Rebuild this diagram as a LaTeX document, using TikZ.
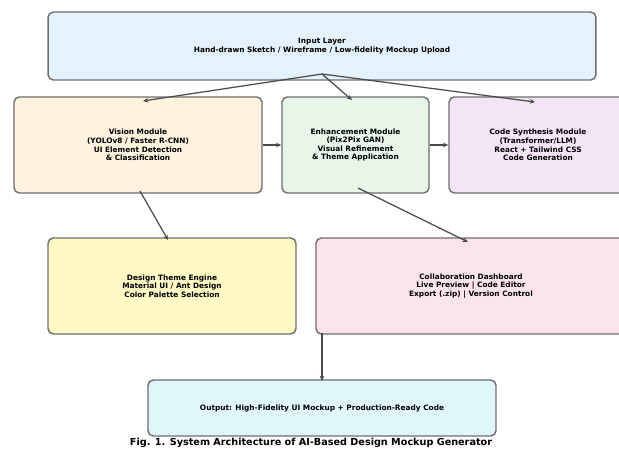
\documentclass[tikz,border=0pt]{standalone}
\usepackage{fontspec}
\setmainfont{DejaVu Sans}
\usetikzlibrary{arrows.meta}

\definecolor{inblue}{HTML}{E3F2FD}
\definecolor{visorange}{HTML}{FFF3E0}
\definecolor{enhgreen}{HTML}{E8F5E9}
\definecolor{codepurple}{HTML}{F3E5F5}
\definecolor{themeyellow}{HTML}{FFF9C4}
\definecolor{collabpink}{HTML}{FCE4EC}
\definecolor{outcyan}{HTML}{E0F7FA}
\definecolor{edgegray}{HTML}{6E6E6E}
\definecolor{linkgray}{HTML}{4A4A4A}

\tikzset{
  modbox/.style={draw=edgegray, line width=0.8pt, rounded corners=3pt, align=center,
    inner sep=0pt, font=\fontsize{4.2}{4.9}\selectfont\bfseries},
  link/.style={draw=linkgray, line width=0.7pt, -{Stealth[length=3pt,width=2.6pt]}}
}

\begin{document}
\begin{tikzpicture}[x=0.02cm,y=-0.02cm]
  \clip (0,0) rectangle (619,450);
  \fill[white] (0,0) rectangle (619,450);

  % top layer
  \node[modbox, fill=inblue, minimum width=10.96cm, minimum height=1.36cm] (input) at (322,46)
    {Input Layer\\Hand-drawn Sketch / Wireframe / Low-fidelity Mockup Upload};

  % modules
  \node[modbox, fill=visorange, minimum width=4.96cm, minimum height=1.92cm] (vision) at (138,145)
    {Vision Module\\(YOLOv8 / Faster R-CNN)\\UI Element Detection\\\& Classification};
  \node[modbox, fill=enhgreen, minimum width=2.94cm, minimum height=1.92cm] (enhance) at (355.5,145)
    {Enhancement Module\\(Pix2Pix GAN)\\Visual Refinement\\\& Theme Application};
  \node[modbox, fill=codepurple, minimum width=3.56cm, minimum height=1.92cm] (code) at (538,145)
    {Code Synthesis Module\\(Transformer/LLM)\\React + Tailwind CSS\\Code Generation};

  % lower layer
  \node[modbox, fill=themeyellow, minimum width=4.96cm, minimum height=1.92cm] (theme) at (172,286)
    {Design Theme Engine\\Material UI / Ant Design\\Color Palette Selection};
  \node[modbox, fill=collabpink, minimum width=6.2cm, minimum height=1.92cm] (collab) at (471,286)
    {Collaboration Dashboard\\Live Preview | Code Editor\\Export (.zip) | Version Control};

  % output
  \node[modbox, fill=outcyan, minimum width=6.96cm, minimum height=1.12cm] (output) at (322,408)
    {Output: High-Fidelity UI Mockup + Production-Ready Code};

  % connectors
  \coordinate (fork) at (322,74);
  \draw[link] (fork) -- (143,101);
  \draw[link] (fork) -- (352,100);
  \draw[link] (fork) -- (535,102);
  \draw[link] (vision.east) -- (enhance.west);
  \draw[link] (enhance.east) -- (code.west);
  \draw[link] (140,191) -- (168,240);
  \draw[link] (358,188) -- (468,242);
  \draw[link] (322,333) -- (322,381);

  \node[font=\fontsize{5.5}{6}\selectfont\bfseries] (caption) at (311,443)
    {Fig. 1. System Architecture of AI-Based Design Mockup Generator};
\end{tikzpicture}
\end{document}
